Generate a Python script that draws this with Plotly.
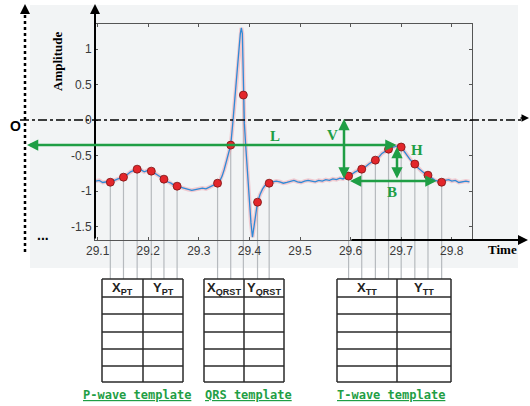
import plotly.graph_objects as go

# ---------------- data ----------------
time_s = [29.096, 29.103, 29.110, 29.118, 29.125, 29.132, 29.140, 29.146, 29.151, 29.158,
          29.165, 29.172, 29.178, 29.185, 29.192, 29.199, 29.206, 29.213, 29.220, 29.226,
          29.231, 29.238, 29.245, 29.251, 29.257, 29.264, 29.272, 29.279, 29.286, 29.293,
          29.300, 29.307, 29.314, 29.320, 29.326, 29.331, 29.337, 29.342, 29.346, 29.350,
          29.354, 29.358, 29.363, 29.367, 29.371, 29.375, 29.379, 29.382, 29.384, 29.386,
          29.387, 29.388, 29.390, 29.393, 29.397, 29.400, 29.403, 29.406, 29.409, 29.412,
          29.416, 29.421, 29.426, 29.431, 29.435, 29.439, 29.446, 29.453, 29.460, 29.467,
          29.474, 29.481, 29.488, 29.495, 29.502, 29.509, 29.516, 29.523, 29.530, 29.537,
          29.544, 29.551, 29.558, 29.565, 29.572, 29.579, 29.585, 29.590, 29.596, 29.603,
          29.609, 29.615, 29.622, 29.629, 29.636, 29.642, 29.649, 29.656, 29.662, 29.668,
          29.675, 29.681, 29.688, 29.694, 29.700, 29.706, 29.712, 29.718, 29.722, 29.727,
          29.734, 29.740, 29.746, 29.753, 29.760, 29.767, 29.773, 29.780, 29.787, 29.794,
          29.800, 29.807, 29.814, 29.821, 29.828, 29.835]
amplitude = [-0.86, -0.85, -0.88, -0.87, -0.876, -0.85, -0.83, -0.82, -0.805, -0.77,
             -0.73, -0.71, -0.692, -0.70, -0.73, -0.71, -0.72, -0.75, -0.78, -0.81,
             -0.833, -0.87, -0.89, -0.92, -0.932, -0.95, -0.97, -0.98, -0.99, -0.98,
             -0.97, -0.96, -0.97, -0.95, -0.93, -0.92, -0.89, -0.85, -0.79, -0.70,
             -0.60, -0.50, -0.353, -0.05, 0.30, 0.66, 1.02, 1.22, 1.30, 1.22,
             0.90, 0.353, -0.05, -0.40, -0.85, -1.20, -1.45, -1.65, -1.50, -1.30,
             -1.158, -1.05, -0.97, -0.92, -0.90, -0.89, -0.87, -0.86, -0.87, -0.89,
             -0.88, -0.86, -0.85, -0.87, -0.88, -0.86, -0.85, -0.86, -0.87, -0.85,
             -0.86, -0.84, -0.85, -0.83, -0.84, -0.82, -0.83, -0.81, -0.79, -0.76,
             -0.73, -0.71, -0.692, -0.66, -0.62, -0.59, -0.565, -0.52, -0.47, -0.44,
             -0.41, -0.39, -0.37, -0.36, -0.38, -0.44, -0.51, -0.56, -0.59, -0.62,
             -0.68, -0.72, -0.75, -0.777, -0.82, -0.85, -0.86, -0.876, -0.85, -0.84,
             -0.86, -0.85, -0.88, -0.87, -0.86, -0.87]

p_time = [29.125, 29.151, 29.178, 29.206, 29.231, 29.257]
p_amp = [-0.876, -0.805, -0.692, -0.72, -0.833, -0.932]
qrs_time = [29.337, 29.363, 29.388, 29.416, 29.439]
qrs_amp = [-0.89, -0.353, 0.353, -1.158, -0.89]
tw_time = [29.596, 29.622, 29.649, 29.675, 29.700, 29.727, 29.753, 29.780]
tw_amp = [-0.79, -0.692, -0.565, -0.41, -0.38, -0.62, -0.777, -0.876]

x_ticks = [29.1, 29.2, 29.3, 29.4, 29.5, 29.6, 29.7, 29.8]
x_tick_text = ["29.1", "29.2", "29.3", "29.4", "29.5", "29.6", "29.7", "29.8"]
y_ticks = [-1.5, -1, -0.5, 0, 0.5, 1]
y_tick_text = ["-1.5", "-1", "-0.5", "0", "0.5", "1"]

table_headers = [["X<sub>PT</sub>", "Y<sub>PT</sub>"],
                 ["X<sub>QRST</sub>", "Y<sub>QRST</sub>"],
                 ["X<sub>TT</sub>", "Y<sub>TT</sub>"]]
template_names = ["P-wave template", "QRS template", "T-wave template"]
measure_labels = ["L", "V", "H", "B"]

# ---------------- geometry / style ----------------
W, H = 530, 406
ML, MR, MT, MB = 95, 58, 24, 166
PW, PH = W - ML - MR, H - MT - MB
XR = [29.0947, 29.840]
YR = [-1.691, 1.355]

def PX(p):
    return (p - ML) / PW

def PY(p):
    return (H - MB - p) / PH

def dx(t):
    return (t - XR[0]) / (XR[1] - XR[0])

def dy(v):
    return (v - YR[0]) / (YR[1] - YR[0])

GREEN = "#1f9e45"
BLUE = "#2f8ad6"
RED = "#e3262b"

fig = go.Figure()

# halo + ECG line
fig.add_trace(go.Scatter(x=time_s, y=amplitude, mode="lines",
                         line=dict(color="rgba(240,150,165,0.45)", width=4),
                         hoverinfo="skip", showlegend=False))
fig.add_trace(go.Scatter(x=time_s, y=amplitude, mode="lines",
                         line=dict(color=BLUE, width=1.3), showlegend=False))

shapes = []
# grey background panel
shapes.append(dict(type="rect", xref="paper", yref="paper", x0=PX(30), x1=PX(518),
                   y0=PY(268), y1=PY(5), fillcolor="#f2f4f5", line=dict(width=0), layer="below"))

# drop lines
TABLE_TOP = 279
for ts, amps in [(p_time, p_amp), (qrs_time, qrs_amp), (tw_time, tw_amp)]:
    for t, a in zip(ts, amps):
        shapes.append(dict(type="line", xref="paper", yref="paper", x0=dx(t), x1=dx(t),
                           y0=dy(a), y1=PY(TABLE_TOP), line=dict(color="#b6babe", width=1.2),
                           layer="below"))

# dotted vertical axis
shapes.append(dict(type="line", xref="paper", yref="paper", x0=PX(25), x1=PX(25),
                   y0=PY(252), y1=PY(12), line=dict(color="black", width=2.5, dash="dot")))
# dash-dot zero line
shapes.append(dict(type="line", xref="paper", yref="paper", x0=PX(20), x1=PX(522),
                   y0=dy(0), y1=dy(0), line=dict(color="black", width=1.5, dash="dashdot")))

# tables
tables_x = [(102, 143, 183), (204, 244, 284), (337, 397, 451)]
rows_y = [279, 297, 314, 332, 349, 366, 382]
for (xl, xm, xr) in tables_x:
    for yy in rows_y:
        shapes.append(dict(type="line", xref="paper", yref="paper", x0=PX(xl), x1=PX(xr),
                           y0=PY(yy), y1=PY(yy), line=dict(color="#2a2a2a", width=1.5)))
    for xx in (xl, xm, xr):
        shapes.append(dict(type="line", xref="paper", yref="paper", x0=PX(xx), x1=PX(xx),
                           y0=PY(rows_y[0]), y1=PY(rows_y[-1]), line=dict(color="#2a2a2a", width=1.5)))

annotations = []

def arrow(hx, hy, tx, ty, color, width=2.0, both=False, head=2, size=1.0):
    d = dict(xref="paper", yref="paper", x=PX(hx), y=PY(hy), ax=tx - hx, ay=ty - hy,
             axref="pixel", ayref="pixel", text="", showarrow=True, arrowhead=head,
             arrowsize=size, arrowwidth=width, arrowcolor=color, standoff=0, startstandoff=0)
    if both:
        d["arrowside"] = "end+start"
        d["startarrowhead"] = head
        d["startarrowsize"] = size
    annotations.append(d)

# black axes arrows
arrow(95, 4, 95, 240, "black", width=2)
arrow(25, 4, 25, 14, "black", width=2)
arrow(529, 118, 519, 118, "black", width=1.5)
arrow(528, 240, 350, 240, "black", width=2)

# green measurement arrows
arrow(27, 145, 398, 145, GREEN, width=2.5, both=True, size=0.9)
arrow(344, 119, 344, 180, GREEN, width=2.5, both=True, size=0.9)
arrow(397, 147, 397, 180, GREEN, width=2.5, both=True, size=0.9)
arrow(350, 181, 438, 181, GREEN, width=2.5, both=True, size=0.9)

def label(x, y, text, size=13, color="black", family="Liberation Serif", angle=0, bold=True):
    annotations.append(dict(xref="paper", yref="paper", x=PX(x), y=PY(y), text=text,
                            showarrow=False, textangle=angle, xanchor="center", yanchor="middle",
                            font=dict(family=family, size=size, color=color,
                                      weight="bold" if bold else "normal")))

label(15, 126, "O", size=14, family="Liberation Sans")
label(57, 62, "Amplitude", size=13, angle=-90)
label(502, 249, "Time", size=13)
label(43, 235, "...", size=14, family="Liberation Sans")

for (x, y), t in zip([(275, 136), (332, 135), (417, 150), (392, 192)], measure_labels):
    label(x, y, t, size=15, color=GREEN)

for (xl, xm, xr), hdr in zip(tables_x, table_headers):
    label((xl + xm) / 2, 288, hdr[0], size=13, family="Liberation Sans", color="#222")
    label((xm + xr) / 2, 288, hdr[1], size=13, family="Liberation Sans", color="#222")

for cx, name in zip([137, 248, 391], template_names):
    label(cx, 395, "<u>" + name + "</u>", size=12, family="DejaVu Sans Mono", color=GREEN)

# markers
for ts, amps in [(p_time, p_amp), (qrs_time, qrs_amp), (tw_time, tw_amp)]:
    fig.add_trace(go.Scatter(x=ts, y=amps, mode="markers",
                             marker=dict(size=8, color=RED, line=dict(color="#7a1414", width=0.8)),
                             showlegend=False, cliponaxis=False))

fig.update_layout(
    width=W, height=H, margin=dict(l=ML, r=MR, t=MT, b=MB, pad=0),
    paper_bgcolor="white", plot_bgcolor="rgba(0,0,0,0)",
    shapes=shapes, annotations=annotations, showlegend=False,
    xaxis=dict(range=XR, tickvals=x_ticks, ticktext=x_tick_text, ticks="inside", ticklen=3,
               tickcolor="#555", showgrid=False, zeroline=False, showline=True,
               linecolor="#555", linewidth=1, mirror="ticks",
               tickfont=dict(family="Liberation Sans", size=12, color="#3a3a3a")),
    yaxis=dict(range=YR, tickvals=y_ticks, ticktext=y_tick_text, ticks="inside", ticklen=3,
               tickcolor="#555", showgrid=False, zeroline=False, showline=True,
               linecolor="#555", linewidth=1, mirror="ticks",
               tickfont=dict(family="Liberation Sans", size=12, color="#3a3a3a")),
)

fig.write_html("out.html", config={"displayModeBar": False},
               post_script="document.body.style.margin='0';document.body.style.overflow='hidden';")
